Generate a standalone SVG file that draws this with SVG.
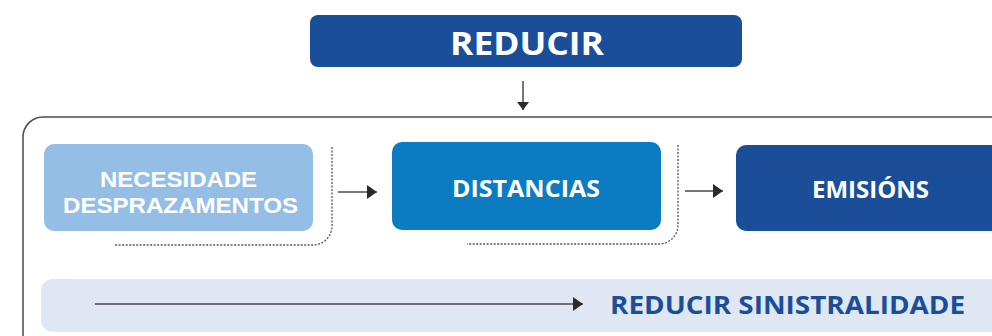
<svg xmlns="http://www.w3.org/2000/svg" width="992" height="336" viewBox="0 0 992 336">
<defs>
<style>
.t{font-family:"Open Sans","Liberation Sans",sans-serif;font-weight:bold;fill:#ffffff;text-anchor:middle}
.t2{font-family:"Liberation Sans","Open Sans",sans-serif;font-weight:bold;fill:#ffffff;text-anchor:middle}
.ln{stroke:#4a4a4a;stroke-width:1.5;fill:none}
.dot{stroke:#555;stroke-width:1.3;fill:none;stroke-dasharray:2 1.5}
</style>
<marker id="ah" viewBox="0 0 10 14" refX="10" refY="7" markerWidth="10" markerHeight="14" markerUnits="userSpaceOnUse" orient="auto">
<path d="M0,0 L10,7 L0,14 Z" fill="#2a2a2a"/>
</marker>
<marker id="ahs" viewBox="0 0 8 12" refX="8" refY="6" markerWidth="8" markerHeight="12" markerUnits="userSpaceOnUse" orient="auto">
<path d="M0,0 L8,6 L0,12 Z" fill="#2a2a2a"/>
</marker>
</defs>
<rect width="992" height="336" fill="#ffffff"/>
<path id="frame" class="ln" d="M23,336 V137 A20,20 0 0 1 43,117 H992"/>
<g id="n-reducir">
<rect x="310" y="15" width="432" height="52" rx="8" fill="#1b4e99"/>
<text class="t" x="527" y="55" font-size="32" textLength="154" lengthAdjust="spacingAndGlyphs">REDUCIR</text>
</g>
<g id="n-necesidade">
<rect x="44" y="144" width="269" height="87" rx="10" fill="#95bee6"/>
<text class="t2" x="178.5" y="187" font-size="22" textLength="157" lengthAdjust="spacingAndGlyphs">NECESIDADE</text>
<text class="t2" x="180.5" y="213" font-size="22" textLength="235" lengthAdjust="spacingAndGlyphs">DESPRAZAMENTOS</text>
</g>
<g id="n-distancias">
<rect x="392" y="142" width="269" height="88" rx="10" fill="#0b7cc2"/>
<text class="t" x="526" y="197" font-size="23" textLength="148" lengthAdjust="spacingAndGlyphs">DISTANCIAS</text>
</g>
<g id="n-emisions">
<rect x="736" y="145" width="270" height="86" rx="10" fill="#1b4e99"/>
<text class="t" x="870.5" y="198" font-size="23" textLength="117" lengthAdjust="spacingAndGlyphs">EMISIÓNS</text>
</g>
<g id="n-sinistralidade">
<rect x="41" y="279" width="970" height="53" rx="12" fill="#dfe8f2"/>
<text x="610" y="314" font-family="'Open Sans','Liberation Sans',sans-serif" font-weight="bold" font-size="25" fill="#1b4e99" textLength="355" lengthAdjust="spacingAndGlyphs">REDUCIR SINISTRALIDADE</text>
</g>
<g id="connectors">
<line class="ln" x1="523" y1="81" x2="523" y2="110" marker-end="url(#ahs)"/>
<line class="ln" x1="338" y1="192" x2="377" y2="192" marker-end="url(#ah)"/>
<line class="ln" x1="685" y1="191" x2="723" y2="191" marker-end="url(#ah)"/>
<line class="ln" x1="95" y1="304" x2="583" y2="304" marker-end="url(#ah)"/>
<path class="dot" d="M332,147 V226 A19,19 0 0 1 313,245 H115"/>
<path class="dot" d="M678,145 V225 A19,19 0 0 1 659,244 H467"/>
</g>
</svg>
